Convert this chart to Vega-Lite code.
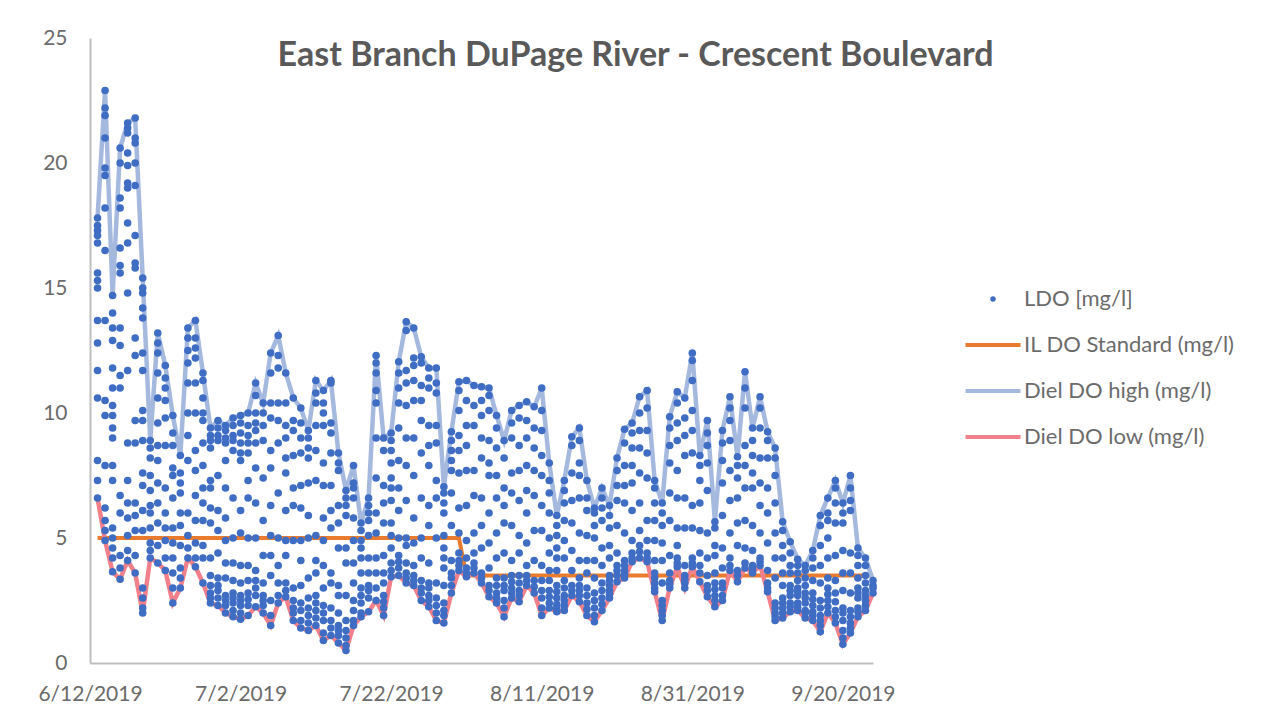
{"$schema":"https://vega.github.io/schema/vega-lite/v6.json","width":783,"height":625,"autosize":"none","padding":{"left":90,"top":38,"right":390,"bottom":56},"background":"white",
"title":{"text":"East Branch DuPage River - Crescent Boulevard","font":"Lato","fontSize":34,"fontWeight":"bold","color":"#595959","anchor":"middle","dx":154,"offset":-46},
"datasets":{
"daily":[
{"d":"6/13/2019","hi":17.8,"lo":6.6,"std":5},{"d":"6/14/2019","hi":22.9,"lo":4.9,"std":5},{"d":"6/15/2019","hi":14.7,"lo":3.65,"std":5},{"d":"6/16/2019","hi":20.6,"lo":3.35,"std":5},{"d":"6/17/2019","hi":21.6,"lo":4.1,"std":5},{"d":"6/18/2019","hi":21.8,"lo":3.6,"std":5},{"d":"6/19/2019","hi":15.4,"lo":2,"std":5},{"d":"6/20/2019","hi":8.9,"lo":4.2,"std":5},{"d":"6/21/2019","hi":13.2,"lo":4,"std":5},{"d":"6/22/2019","hi":11.9,"lo":3.7,"std":5},{"d":"6/23/2019","hi":9.9,"lo":2.4,"std":5},{"d":"6/24/2019","hi":8.3,"lo":3,"std":5},{"d":"6/25/2019","hi":13.4,"lo":4.2,"std":5},{"d":"6/26/2019","hi":13.7,"lo":3.85,"std":5},{"d":"6/27/2019","hi":11.6,"lo":3.2,"std":5},{"d":"6/28/2019","hi":9.4,"lo":2.4,"std":5},{"d":"6/29/2019","hi":9.7,"lo":2.3,"std":5},{"d":"6/30/2019","hi":9.5,"lo":2,"std":5},
{"d":"7/1/2019","hi":9.8,"lo":1.85,"std":5},{"d":"7/2/2019","hi":9.9,"lo":1.75,"std":5},{"d":"7/3/2019","hi":10,"lo":1.9,"std":5},{"d":"7/4/2019","hi":11.2,"lo":2.25,"std":5},{"d":"7/5/2019","hi":10.4,"lo":2,"std":5},{"d":"7/6/2019","hi":12.4,"lo":1.5,"std":5},{"d":"7/7/2019","hi":13.1,"lo":2.4,"std":5},{"d":"7/8/2019","hi":11.6,"lo":2.65,"std":5},{"d":"7/9/2019","hi":10.6,"lo":1.7,"std":5},{"d":"7/10/2019","hi":10.2,"lo":1.4,"std":5},{"d":"7/11/2019","hi":9.3,"lo":1.3,"std":5},{"d":"7/12/2019","hi":11.3,"lo":1.5,"std":5},{"d":"7/13/2019","hi":10.9,"lo":0.9,"std":5},{"d":"7/14/2019","hi":11.3,"lo":1.1,"std":5},{"d":"7/15/2019","hi":8.4,"lo":0.8,"std":5},{"d":"7/16/2019","hi":6.9,"lo":0.5,"std":5},{"d":"7/17/2019","hi":7.9,"lo":1.5,"std":5},{"d":"7/18/2019","hi":5.6,"lo":1.85,"std":5},{"d":"7/19/2019","hi":6.6,"lo":2.05,"std":5},{"d":"7/20/2019","hi":12.3,"lo":2.5,"std":5},{"d":"7/21/2019","hi":9,"lo":1.9,"std":5},{"d":"7/22/2019","hi":9.2,"lo":3.45,"std":5},{"d":"7/23/2019","hi":12.05,"lo":3.5,"std":5},{"d":"7/24/2019","hi":13.65,"lo":3.2,"std":5},{"d":"7/25/2019","hi":13.4,"lo":3.1,"std":5},{"d":"7/26/2019","hi":12.25,"lo":2.5,"std":5},{"d":"7/27/2019","hi":11.8,"lo":2.25,"std":5},{"d":"7/28/2019","hi":11.8,"lo":1.7,"std":5},{"d":"7/29/2019","hi":7.05,"lo":1.6,"std":5},{"d":"7/30/2019","hi":9.25,"lo":2.8,"std":5},{"d":"7/31/2019","hi":11.25,"lo":3.7,"std":5},
{"d":"8/1/2019","hi":11.3,"lo":3.45,"std":3.5},{"d":"8/2/2019","hi":11.1,"lo":3.6,"std":3.5},{"d":"8/3/2019","hi":11.05,"lo":3.2,"std":3.5},{"d":"8/4/2019","hi":11,"lo":2.65,"std":3.5},{"d":"8/5/2019","hi":9.9,"lo":2.4,"std":3.5},{"d":"8/6/2019","hi":8.9,"lo":1.85,"std":3.5},{"d":"8/7/2019","hi":10.1,"lo":2.6,"std":3.5},{"d":"8/8/2019","hi":10.3,"lo":2.45,"std":3.5},{"d":"8/9/2019","hi":10.45,"lo":3.1,"std":3.5},{"d":"8/10/2019","hi":10.25,"lo":2.8,"std":3.5},{"d":"8/11/2019","hi":11,"lo":1.9,"std":3.5},{"d":"8/12/2019","hi":8,"lo":2.2,"std":3.5},{"d":"8/13/2019","hi":5.9,"lo":2.05,"std":3.5},{"d":"8/14/2019","hi":7.3,"lo":2.1,"std":3.5},{"d":"8/15/2019","hi":9.05,"lo":2.7,"std":3.5},{"d":"8/16/2019","hi":9.4,"lo":2.45,"std":3.5},{"d":"8/17/2019","hi":7.3,"lo":1.9,"std":3.5},{"d":"8/18/2019","hi":6.2,"lo":1.65,"std":3.5},{"d":"8/19/2019","hi":7,"lo":2.1,"std":3.5},{"d":"8/20/2019","hi":6.3,"lo":2.6,"std":3.5},{"d":"8/21/2019","hi":8.2,"lo":3.25,"std":3.5},{"d":"8/22/2019","hi":9.35,"lo":3.4,"std":3.5},{"d":"8/23/2019","hi":9.6,"lo":4.05,"std":3.5},{"d":"8/24/2019","hi":10.65,"lo":4.2,"std":3.5},{"d":"8/25/2019","hi":10.9,"lo":4.05,"std":3.5},{"d":"8/26/2019","hi":7.3,"lo":2.85,"std":3.5},{"d":"8/27/2019","hi":6.4,"lo":1.7,"std":3.5},{"d":"8/28/2019","hi":9.85,"lo":3,"std":3.5},{"d":"8/29/2019","hi":10.85,"lo":3.85,"std":3.5},{"d":"8/30/2019","hi":10.6,"lo":3,"std":3.5},{"d":"8/31/2019","hi":12.4,"lo":3.85,"std":3.5},
{"d":"9/1/2019","hi":8.3,"lo":3.25,"std":3.5},{"d":"9/2/2019","hi":9.7,"lo":2.65,"std":3.5},{"d":"9/3/2019","hi":5.65,"lo":2.25,"std":3.5},{"d":"9/4/2019","hi":9.3,"lo":2.5,"std":3.5},{"d":"9/5/2019","hi":10.65,"lo":3.7,"std":3.5},{"d":"9/6/2019","hi":8.25,"lo":3.25,"std":3.5},{"d":"9/7/2019","hi":11.65,"lo":3.8,"std":3.5},{"d":"9/8/2019","hi":9.4,"lo":3.6,"std":3.5},{"d":"9/9/2019","hi":10.65,"lo":3.9,"std":3.5},{"d":"9/10/2019","hi":9.25,"lo":2.85,"std":3.5},{"d":"9/11/2019","hi":8.6,"lo":1.7,"std":3.5},{"d":"9/12/2019","hi":5.65,"lo":1.8,"std":3.5},{"d":"9/13/2019","hi":4.85,"lo":2.05,"std":3.5},{"d":"9/14/2019","hi":4.15,"lo":2.1,"std":3.5},{"d":"9/15/2019","hi":3.9,"lo":1.8,"std":3.5},{"d":"9/16/2019","hi":4.5,"lo":1.7,"std":3.5},{"d":"9/17/2019","hi":5.9,"lo":1.25,"std":3.5},{"d":"9/18/2019","hi":6.6,"lo":2,"std":3.5},{"d":"9/19/2019","hi":7.3,"lo":1.6,"std":3.5},{"d":"9/20/2019","hi":6.4,"lo":0.75,"std":3.5},{"d":"9/21/2019","hi":7.5,"lo":1.2,"std":3.5},{"d":"9/22/2019","hi":4.6,"lo":1.85,"std":3.5},{"d":"9/23/2019","hi":4.2,"lo":2.1,"std":3.5},{"d":"9/24/2019","hi":3.3,"lo":2.8,"std":3.5}
],
"ldo":[
{"d":"6/13/2019","v":17.8},{"d":"6/13/2019","v":17.5},{"d":"6/13/2019","v":17.3},{"d":"6/13/2019","v":17.1},{"d":"6/13/2019","v":16.8},{"d":"6/13/2019","v":15.6},{"d":"6/13/2019","v":15.3},{"d":"6/13/2019","v":15},{"d":"6/13/2019","v":13.7},{"d":"6/13/2019","v":12.8},{"d":"6/13/2019","v":11.7},{"d":"6/13/2019","v":10.6},{"d":"6/13/2019","v":8.1},{"d":"6/13/2019","v":7.3},{"d":"6/13/2019","v":6.6},
{"d":"6/14/2019","v":22.9},{"d":"6/14/2019","v":22.2},{"d":"6/14/2019","v":21.9},{"d":"6/14/2019","v":21},{"d":"6/14/2019","v":19.8},{"d":"6/14/2019","v":19.5},{"d":"6/14/2019","v":18.2},{"d":"6/14/2019","v":16.5},{"d":"6/14/2019","v":13.7},{"d":"6/14/2019","v":10.5},{"d":"6/14/2019","v":9.9},{"d":"6/14/2019","v":7.9},{"d":"6/14/2019","v":6.2},{"d":"6/14/2019","v":5.7},{"d":"6/14/2019","v":5.3},{"d":"6/14/2019","v":4.9},
{"d":"6/15/2019","v":14.7},{"d":"6/15/2019","v":14},{"d":"6/15/2019","v":13.4},{"d":"6/15/2019","v":12.9},{"d":"6/15/2019","v":11.8},{"d":"6/15/2019","v":11},{"d":"6/15/2019","v":10.3},{"d":"6/15/2019","v":9.9},{"d":"6/15/2019","v":9.4},{"d":"6/15/2019","v":9},{"d":"6/15/2019","v":7.9},{"d":"6/15/2019","v":7.3},{"d":"6/15/2019","v":5.4},{"d":"6/15/2019","v":5},{"d":"6/15/2019","v":4.6},{"d":"6/15/2019","v":4.2},{"d":"6/15/2019","v":3.65},
{"d":"6/16/2019","v":20.6},{"d":"6/16/2019","v":20},{"d":"6/16/2019","v":18.6},{"d":"6/16/2019","v":18.2},{"d":"6/16/2019","v":16.6},{"d":"6/16/2019","v":15.9},{"d":"6/16/2019","v":15.6},{"d":"6/16/2019","v":13.4},{"d":"6/16/2019","v":12.7},{"d":"6/16/2019","v":11.5},{"d":"6/16/2019","v":11},{"d":"6/16/2019","v":6.7},{"d":"6/16/2019","v":6},{"d":"6/16/2019","v":4.3},{"d":"6/16/2019","v":3.8},{"d":"6/16/2019","v":3.35},
{"d":"6/17/2019","v":21.6},{"d":"6/17/2019","v":21.4},{"d":"6/17/2019","v":21.2},{"d":"6/17/2019","v":20.4},{"d":"6/17/2019","v":19.9},{"d":"6/17/2019","v":19.2},{"d":"6/17/2019","v":19},{"d":"6/17/2019","v":17.6},{"d":"6/17/2019","v":16.8},{"d":"6/17/2019","v":14.8},{"d":"6/17/2019","v":11.7},{"d":"6/17/2019","v":8.8},{"d":"6/17/2019","v":7.3},{"d":"6/17/2019","v":6.4},{"d":"6/17/2019","v":5.8},{"d":"6/17/2019","v":5.1},{"d":"6/17/2019","v":4.5},{"d":"6/17/2019","v":4.1},
{"d":"6/18/2019","v":21.8},{"d":"6/18/2019","v":21},{"d":"6/18/2019","v":20.8},{"d":"6/18/2019","v":20},{"d":"6/18/2019","v":19.1},{"d":"6/18/2019","v":17.1},{"d":"6/18/2019","v":16},{"d":"6/18/2019","v":15.8},{"d":"6/18/2019","v":13},{"d":"6/18/2019","v":12.3},{"d":"6/18/2019","v":9.7},{"d":"6/18/2019","v":8.8},{"d":"6/18/2019","v":6.4},{"d":"6/18/2019","v":5.9},{"d":"6/18/2019","v":5.3},{"d":"6/18/2019","v":4.3},{"d":"6/18/2019","v":3.6},
{"d":"6/19/2019","v":15.4},{"d":"6/19/2019","v":15},{"d":"6/19/2019","v":14.8},{"d":"6/19/2019","v":14.2},{"d":"6/19/2019","v":13.8},{"d":"6/19/2019","v":12.4},{"d":"6/19/2019","v":11.7},{"d":"6/19/2019","v":10.1},{"d":"6/19/2019","v":9.7},{"d":"6/19/2019","v":8.9},{"d":"6/19/2019","v":7.6},{"d":"6/19/2019","v":7.1},{"d":"6/19/2019","v":6.1},{"d":"6/19/2019","v":5.3},{"d":"6/19/2019","v":3},{"d":"6/19/2019","v":2.6},{"d":"6/19/2019","v":2.2},{"d":"6/19/2019","v":2},
{"d":"6/20/2019","v":8.9},{"d":"6/20/2019","v":8.6},{"d":"6/20/2019","v":8.2},{"d":"6/20/2019","v":7.5},{"d":"6/20/2019","v":6.9},{"d":"6/20/2019","v":6.3},{"d":"6/20/2019","v":6},{"d":"6/20/2019","v":5.4},{"d":"6/20/2019","v":4.8},{"d":"6/20/2019","v":4.5},{"d":"6/20/2019","v":4.2},
{"d":"6/21/2019","v":13.2},{"d":"6/21/2019","v":12.8},{"d":"6/21/2019","v":12.4},{"d":"6/21/2019","v":11.6},{"d":"6/21/2019","v":10.6},{"d":"6/21/2019","v":9.6},{"d":"6/21/2019","v":8.7},{"d":"6/21/2019","v":8.1},{"d":"6/21/2019","v":7.2},{"d":"6/21/2019","v":6.4},{"d":"6/21/2019","v":5.6},{"d":"6/21/2019","v":4.7},{"d":"6/21/2019","v":4},
{"d":"6/22/2019","v":11.9},{"d":"6/22/2019","v":11.4},{"d":"6/22/2019","v":11},{"d":"6/22/2019","v":10.5},{"d":"6/22/2019","v":9.8},{"d":"6/22/2019","v":8.7},{"d":"6/22/2019","v":7},{"d":"6/22/2019","v":6},{"d":"6/22/2019","v":5.4},{"d":"6/22/2019","v":4.9},{"d":"6/22/2019","v":4.2},{"d":"6/22/2019","v":3.7},
{"d":"6/23/2019","v":9.9},{"d":"6/23/2019","v":9.2},{"d":"6/23/2019","v":8.7},{"d":"6/23/2019","v":7.8},{"d":"6/23/2019","v":7.5},{"d":"6/23/2019","v":6.6},{"d":"6/23/2019","v":5.4},{"d":"6/23/2019","v":4.8},{"d":"6/23/2019","v":4.2},{"d":"6/23/2019","v":3.6},{"d":"6/23/2019","v":3},{"d":"6/23/2019","v":2.4},
{"d":"6/24/2019","v":8.3},{"d":"6/24/2019","v":7.6},{"d":"6/24/2019","v":7.2},{"d":"6/24/2019","v":6.8},{"d":"6/24/2019","v":6},{"d":"6/24/2019","v":5.5},{"d":"6/24/2019","v":4.7},{"d":"6/24/2019","v":3.8},{"d":"6/24/2019","v":3.4},{"d":"6/24/2019","v":3},
{"d":"6/25/2019","v":13.4},{"d":"6/25/2019","v":13},{"d":"6/25/2019","v":12.5},{"d":"6/25/2019","v":12},{"d":"6/25/2019","v":11.2},{"d":"6/25/2019","v":10},{"d":"6/25/2019","v":9.1},{"d":"6/25/2019","v":8.1},{"d":"6/25/2019","v":6},{"d":"6/25/2019","v":5.1},{"d":"6/25/2019","v":4.6},{"d":"6/25/2019","v":4.2},
{"d":"6/26/2019","v":13.7},{"d":"6/26/2019","v":13},{"d":"6/26/2019","v":12.6},{"d":"6/26/2019","v":12.2},{"d":"6/26/2019","v":11.2},{"d":"6/26/2019","v":10},{"d":"6/26/2019","v":8.5},{"d":"6/26/2019","v":7.7},{"d":"6/26/2019","v":6.7},{"d":"6/26/2019","v":5.7},{"d":"6/26/2019","v":4.8},{"d":"6/26/2019","v":4.2},{"d":"6/26/2019","v":3.85},
{"d":"6/27/2019","v":11.6},{"d":"6/27/2019","v":11.3},{"d":"6/27/2019","v":10.6},{"d":"6/27/2019","v":10},{"d":"6/27/2019","v":9.7},{"d":"6/27/2019","v":8.8},{"d":"6/27/2019","v":7.9},{"d":"6/27/2019","v":7},{"d":"6/27/2019","v":6.4},{"d":"6/27/2019","v":5.7},{"d":"6/27/2019","v":4.7},{"d":"6/27/2019","v":4.2},{"d":"6/27/2019","v":3.2},
{"d":"6/28/2019","v":9.4},{"d":"6/28/2019","v":9.1},{"d":"6/28/2019","v":8.6},{"d":"6/28/2019","v":7.3},{"d":"6/28/2019","v":7},{"d":"6/28/2019","v":6.2},{"d":"6/28/2019","v":5.6},{"d":"6/28/2019","v":4.2},{"d":"6/28/2019","v":3.5},{"d":"6/28/2019","v":3.1},{"d":"6/28/2019","v":2.8},{"d":"6/28/2019","v":2.4},
{"d":"6/29/2019","v":9.7},{"d":"6/29/2019","v":9.4},{"d":"6/29/2019","v":8.9},{"d":"6/29/2019","v":7.5},{"d":"6/29/2019","v":6.1},{"d":"6/29/2019","v":5.3},{"d":"6/29/2019","v":4.4},{"d":"6/29/2019","v":3.4},{"d":"6/29/2019","v":2.9},{"d":"6/29/2019","v":2.6},{"d":"6/29/2019","v":2.3},
{"d":"6/30/2019","v":9.5},{"d":"6/30/2019","v":9.3},{"d":"6/30/2019","v":8.8},{"d":"6/30/2019","v":8.1},{"d":"6/30/2019","v":7},{"d":"6/30/2019","v":5.8},{"d":"6/30/2019","v":4.9},{"d":"6/30/2019","v":4},{"d":"6/30/2019","v":3.4},{"d":"6/30/2019","v":2.7},{"d":"6/30/2019","v":2.3},{"d":"6/30/2019","v":2},
{"d":"7/1/2019","v":9.8},{"d":"7/1/2019","v":9.5},{"d":"7/1/2019","v":9.1},{"d":"7/1/2019","v":8.5},{"d":"7/1/2019","v":6.6},{"d":"7/1/2019","v":5},{"d":"7/1/2019","v":4},{"d":"7/1/2019","v":3.3},{"d":"7/1/2019","v":2.8},{"d":"7/1/2019","v":2.4},{"d":"7/1/2019","v":2.1},{"d":"7/1/2019","v":1.85},
{"d":"7/2/2019","v":9.9},{"d":"7/2/2019","v":9.6},{"d":"7/2/2019","v":9.2},{"d":"7/2/2019","v":8.8},{"d":"7/2/2019","v":8.1},{"d":"7/2/2019","v":6.1},{"d":"7/2/2019","v":5.2},{"d":"7/2/2019","v":3.9},{"d":"7/2/2019","v":3.2},{"d":"7/2/2019","v":2.7},{"d":"7/2/2019","v":2.3},{"d":"7/2/2019","v":2},{"d":"7/2/2019","v":1.75},
{"d":"7/3/2019","v":10},{"d":"7/3/2019","v":9.5},{"d":"7/3/2019","v":9.1},{"d":"7/3/2019","v":8.4},{"d":"7/3/2019","v":7.3},{"d":"7/3/2019","v":6.6},{"d":"7/3/2019","v":5},{"d":"7/3/2019","v":3.9},{"d":"7/3/2019","v":3.3},{"d":"7/3/2019","v":2.8},{"d":"7/3/2019","v":2.3},{"d":"7/3/2019","v":1.9},
{"d":"7/4/2019","v":11.2},{"d":"7/4/2019","v":10.7},{"d":"7/4/2019","v":10},{"d":"7/4/2019","v":9.3},{"d":"7/4/2019","v":8.8},{"d":"7/4/2019","v":7.8},{"d":"7/4/2019","v":6.4},{"d":"7/4/2019","v":5},{"d":"7/4/2019","v":3.7},{"d":"7/4/2019","v":3.3},{"d":"7/4/2019","v":2.7},{"d":"7/4/2019","v":2.25},
{"d":"7/5/2019","v":10.4},{"d":"7/5/2019","v":10},{"d":"7/5/2019","v":9.5},{"d":"7/5/2019","v":8.9},{"d":"7/5/2019","v":7.4},{"d":"7/5/2019","v":5.7},{"d":"7/5/2019","v":4.3},{"d":"7/5/2019","v":3.2},{"d":"7/5/2019","v":2.7},{"d":"7/5/2019","v":2.3},{"d":"7/5/2019","v":2},
{"d":"7/6/2019","v":12.4},{"d":"7/6/2019","v":11.6},{"d":"7/6/2019","v":10.4},{"d":"7/6/2019","v":9.8},{"d":"7/6/2019","v":8.5},{"d":"7/6/2019","v":7.8},{"d":"7/6/2019","v":6.3},{"d":"7/6/2019","v":5.1},{"d":"7/6/2019","v":4.3},{"d":"7/6/2019","v":3.5},{"d":"7/6/2019","v":2.5},{"d":"7/6/2019","v":1.9},{"d":"7/6/2019","v":1.5},
{"d":"7/7/2019","v":13.1},{"d":"7/7/2019","v":12.3},{"d":"7/7/2019","v":11.8},{"d":"7/7/2019","v":10.4},{"d":"7/7/2019","v":9.7},{"d":"7/7/2019","v":8.8},{"d":"7/7/2019","v":6.8},{"d":"7/7/2019","v":5},{"d":"7/7/2019","v":3.9},{"d":"7/7/2019","v":3.2},{"d":"7/7/2019","v":2.7},{"d":"7/7/2019","v":2.4},
{"d":"7/8/2019","v":11.6},{"d":"7/8/2019","v":10.4},{"d":"7/8/2019","v":9.5},{"d":"7/8/2019","v":9},{"d":"7/8/2019","v":8.2},{"d":"7/8/2019","v":7.6},{"d":"7/8/2019","v":6.1},{"d":"7/8/2019","v":4.9},{"d":"7/8/2019","v":4.3},{"d":"7/8/2019","v":3.2},{"d":"7/8/2019","v":2.9},{"d":"7/8/2019","v":2.65},
{"d":"7/9/2019","v":10.6},{"d":"7/9/2019","v":9.7},{"d":"7/9/2019","v":9.3},{"d":"7/9/2019","v":8.3},{"d":"7/9/2019","v":7},{"d":"7/9/2019","v":6.3},{"d":"7/9/2019","v":4.9},{"d":"7/9/2019","v":3},{"d":"7/9/2019","v":2.5},{"d":"7/9/2019","v":2.2},{"d":"7/9/2019","v":1.7},
{"d":"7/10/2019","v":10.2},{"d":"7/10/2019","v":9.6},{"d":"7/10/2019","v":9},{"d":"7/10/2019","v":8.4},{"d":"7/10/2019","v":7.1},{"d":"7/10/2019","v":6.2},{"d":"7/10/2019","v":4.9},{"d":"7/10/2019","v":4.1},{"d":"7/10/2019","v":3.1},{"d":"7/10/2019","v":2.1},{"d":"7/10/2019","v":1.7},{"d":"7/10/2019","v":1.4},
{"d":"7/11/2019","v":9.3},{"d":"7/11/2019","v":9},{"d":"7/11/2019","v":8.6},{"d":"7/11/2019","v":8.2},{"d":"7/11/2019","v":7.2},{"d":"7/11/2019","v":5.9},{"d":"7/11/2019","v":5},{"d":"7/11/2019","v":3.4},{"d":"7/11/2019","v":2.6},{"d":"7/11/2019","v":1.9},{"d":"7/11/2019","v":1.6},{"d":"7/11/2019","v":1.3},
{"d":"7/12/2019","v":11.3},{"d":"7/12/2019","v":10.8},{"d":"7/12/2019","v":10.4},{"d":"7/12/2019","v":9.5},{"d":"7/12/2019","v":8.5},{"d":"7/12/2019","v":7.3},{"d":"7/12/2019","v":5.1},{"d":"7/12/2019","v":4.1},{"d":"7/12/2019","v":3.6},{"d":"7/12/2019","v":2.7},{"d":"7/12/2019","v":2.1},{"d":"7/12/2019","v":1.8},{"d":"7/12/2019","v":1.5},
{"d":"7/13/2019","v":10.9},{"d":"7/13/2019","v":10.4},{"d":"7/13/2019","v":10},{"d":"7/13/2019","v":9.5},{"d":"7/13/2019","v":8},{"d":"7/13/2019","v":7.1},{"d":"7/13/2019","v":5.8},{"d":"7/13/2019","v":4.9},{"d":"7/13/2019","v":3.9},{"d":"7/13/2019","v":3},{"d":"7/13/2019","v":2.3},{"d":"7/13/2019","v":1.7},{"d":"7/13/2019","v":1.2},{"d":"7/13/2019","v":0.9},
{"d":"7/14/2019","v":11.3},{"d":"7/14/2019","v":11.2},{"d":"7/14/2019","v":9.6},{"d":"7/14/2019","v":9.2},{"d":"7/14/2019","v":8.4},{"d":"7/14/2019","v":7.1},{"d":"7/14/2019","v":6.1},{"d":"7/14/2019","v":5.4},{"d":"7/14/2019","v":3.6},{"d":"7/14/2019","v":3.2},{"d":"7/14/2019","v":2.2},{"d":"7/14/2019","v":1.7},{"d":"7/14/2019","v":1.1},
{"d":"7/15/2019","v":8.4},{"d":"7/15/2019","v":8},{"d":"7/15/2019","v":7.7},{"d":"7/15/2019","v":6.3},{"d":"7/15/2019","v":5.6},{"d":"7/15/2019","v":4.6},{"d":"7/15/2019","v":3.1},{"d":"7/15/2019","v":2.7},{"d":"7/15/2019","v":2},{"d":"7/15/2019","v":1.5},{"d":"7/15/2019","v":1.1},{"d":"7/15/2019","v":0.8},
{"d":"7/16/2019","v":6.9},{"d":"7/16/2019","v":6.6},{"d":"7/16/2019","v":6.3},{"d":"7/16/2019","v":5.9},{"d":"7/16/2019","v":4.6},{"d":"7/16/2019","v":4},{"d":"7/16/2019","v":2.7},{"d":"7/16/2019","v":1.7},{"d":"7/16/2019","v":1},{"d":"7/16/2019","v":0.7},{"d":"7/16/2019","v":0.5},
{"d":"7/17/2019","v":7.9},{"d":"7/17/2019","v":7.2},{"d":"7/17/2019","v":7},{"d":"7/17/2019","v":6.6},{"d":"7/17/2019","v":5.8},{"d":"7/17/2019","v":4.9},{"d":"7/17/2019","v":4},{"d":"7/17/2019","v":3.2},{"d":"7/17/2019","v":2.5},{"d":"7/17/2019","v":1.7},{"d":"7/17/2019","v":1.5},
{"d":"7/18/2019","v":5.6},{"d":"7/18/2019","v":5.3},{"d":"7/18/2019","v":4.9},{"d":"7/18/2019","v":4.6},{"d":"7/18/2019","v":4.2},{"d":"7/18/2019","v":3.6},{"d":"7/18/2019","v":3},{"d":"7/18/2019","v":2.4},{"d":"7/18/2019","v":2},{"d":"7/18/2019","v":1.85},
{"d":"7/19/2019","v":6.6},{"d":"7/19/2019","v":6.3},{"d":"7/19/2019","v":6},{"d":"7/19/2019","v":5.7},{"d":"7/19/2019","v":5.1},{"d":"7/19/2019","v":4.2},{"d":"7/19/2019","v":3.6},{"d":"7/19/2019","v":3.1},{"d":"7/19/2019","v":2.6},{"d":"7/19/2019","v":2.05},
{"d":"7/20/2019","v":12.3},{"d":"7/20/2019","v":12},{"d":"7/20/2019","v":11.6},{"d":"7/20/2019","v":10.9},{"d":"7/20/2019","v":10.4},{"d":"7/20/2019","v":9},{"d":"7/20/2019","v":7.4},{"d":"7/20/2019","v":6},{"d":"7/20/2019","v":5.2},{"d":"7/20/2019","v":4.2},{"d":"7/20/2019","v":3.6},{"d":"7/20/2019","v":3},{"d":"7/20/2019","v":2.5},
{"d":"7/21/2019","v":9},{"d":"7/21/2019","v":8.5},{"d":"7/21/2019","v":7.1},{"d":"7/21/2019","v":6.4},{"d":"7/21/2019","v":5.6},{"d":"7/21/2019","v":4.3},{"d":"7/21/2019","v":3.6},{"d":"7/21/2019","v":3.2},{"d":"7/21/2019","v":2.7},{"d":"7/21/2019","v":2.2},{"d":"7/21/2019","v":1.9},
{"d":"7/22/2019","v":9.2},{"d":"7/22/2019","v":8.9},{"d":"7/22/2019","v":8.5},{"d":"7/22/2019","v":8},{"d":"7/22/2019","v":7.4},{"d":"7/22/2019","v":7},{"d":"7/22/2019","v":6.5},{"d":"7/22/2019","v":5.6},{"d":"7/22/2019","v":5.1},{"d":"7/22/2019","v":4.6},{"d":"7/22/2019","v":4},{"d":"7/22/2019","v":3.45},
{"d":"7/23/2019","v":12.05},{"d":"7/23/2019","v":11.6},{"d":"7/23/2019","v":11},{"d":"7/23/2019","v":10.4},{"d":"7/23/2019","v":9.4},{"d":"7/23/2019","v":8.1},{"d":"7/23/2019","v":7},{"d":"7/23/2019","v":6.1},{"d":"7/23/2019","v":5},{"d":"7/23/2019","v":4.3},{"d":"7/23/2019","v":3.8},{"d":"7/23/2019","v":3.5},
{"d":"7/24/2019","v":13.65},{"d":"7/24/2019","v":13.3},{"d":"7/24/2019","v":11.7},{"d":"7/24/2019","v":11.2},{"d":"7/24/2019","v":10.3},{"d":"7/24/2019","v":9},{"d":"7/24/2019","v":7.9},{"d":"7/24/2019","v":6.5},{"d":"7/24/2019","v":5},{"d":"7/24/2019","v":4.7},{"d":"7/24/2019","v":4},{"d":"7/24/2019","v":3.6},{"d":"7/24/2019","v":3.2},
{"d":"7/25/2019","v":13.4},{"d":"7/25/2019","v":12.2},{"d":"7/25/2019","v":11.9},{"d":"7/25/2019","v":11.3},{"d":"7/25/2019","v":10.5},{"d":"7/25/2019","v":9},{"d":"7/25/2019","v":7.5},{"d":"7/25/2019","v":5.8},{"d":"7/25/2019","v":4.8},{"d":"7/25/2019","v":3.9},{"d":"7/25/2019","v":3.5},{"d":"7/25/2019","v":3.1},
{"d":"7/26/2019","v":12.25},{"d":"7/26/2019","v":12},{"d":"7/26/2019","v":11.1},{"d":"7/26/2019","v":10.5},{"d":"7/26/2019","v":9.7},{"d":"7/26/2019","v":8.4},{"d":"7/26/2019","v":6.6},{"d":"7/26/2019","v":5},{"d":"7/26/2019","v":4.2},{"d":"7/26/2019","v":3.3},{"d":"7/26/2019","v":2.8},{"d":"7/26/2019","v":2.5},
{"d":"7/27/2019","v":11.8},{"d":"7/27/2019","v":11.4},{"d":"7/27/2019","v":11},{"d":"7/27/2019","v":9.5},{"d":"7/27/2019","v":8.7},{"d":"7/27/2019","v":7.9},{"d":"7/27/2019","v":6.3},{"d":"7/27/2019","v":5.5},{"d":"7/27/2019","v":4},{"d":"7/27/2019","v":3.2},{"d":"7/27/2019","v":2.7},{"d":"7/27/2019","v":2.25},
{"d":"7/28/2019","v":11.8},{"d":"7/28/2019","v":11.2},{"d":"7/28/2019","v":10.8},{"d":"7/28/2019","v":9.5},{"d":"7/28/2019","v":8.8},{"d":"7/28/2019","v":7.3},{"d":"7/28/2019","v":6.6},{"d":"7/28/2019","v":5},{"d":"7/28/2019","v":3.2},{"d":"7/28/2019","v":2.6},{"d":"7/28/2019","v":2},{"d":"7/28/2019","v":1.7},
{"d":"7/29/2019","v":7.05},{"d":"7/29/2019","v":6.8},{"d":"7/29/2019","v":6.4},{"d":"7/29/2019","v":6},{"d":"7/29/2019","v":5.1},{"d":"7/29/2019","v":4.6},{"d":"7/29/2019","v":4.2},{"d":"7/29/2019","v":3.8},{"d":"7/29/2019","v":3.1},{"d":"7/29/2019","v":2.4},{"d":"7/29/2019","v":1.9},{"d":"7/29/2019","v":1.6},
{"d":"7/30/2019","v":9.25},{"d":"7/30/2019","v":8.9},{"d":"7/30/2019","v":8.5},{"d":"7/30/2019","v":8.1},{"d":"7/30/2019","v":7.7},{"d":"7/30/2019","v":6.8},{"d":"7/30/2019","v":5.5},{"d":"7/30/2019","v":4.1},{"d":"7/30/2019","v":3.6},{"d":"7/30/2019","v":3.1},{"d":"7/30/2019","v":2.8},
{"d":"7/31/2019","v":11.25},{"d":"7/31/2019","v":10.9},{"d":"7/31/2019","v":10.1},{"d":"7/31/2019","v":9.1},{"d":"7/31/2019","v":8.5},{"d":"7/31/2019","v":7.6},{"d":"7/31/2019","v":6.2},{"d":"7/31/2019","v":5.2},{"d":"7/31/2019","v":4.4},{"d":"7/31/2019","v":3.9},{"d":"7/31/2019","v":3.7},
{"d":"8/1/2019","v":11.3},{"d":"8/1/2019","v":10.5},{"d":"8/1/2019","v":9.5},{"d":"8/1/2019","v":8.7},{"d":"8/1/2019","v":7.7},{"d":"8/1/2019","v":6.3},{"d":"8/1/2019","v":4.9},{"d":"8/1/2019","v":4.2},{"d":"8/1/2019","v":3.8},{"d":"8/1/2019","v":3.45},
{"d":"8/2/2019","v":11.1},{"d":"8/2/2019","v":10.3},{"d":"8/2/2019","v":9.5},{"d":"8/2/2019","v":7.7},{"d":"8/2/2019","v":6.7},{"d":"8/2/2019","v":5.2},{"d":"8/2/2019","v":4.4},{"d":"8/2/2019","v":3.8},{"d":"8/2/2019","v":3.6},
{"d":"8/3/2019","v":11.05},{"d":"8/3/2019","v":10.5},{"d":"8/3/2019","v":9.9},{"d":"8/3/2019","v":9},{"d":"8/3/2019","v":8.2},{"d":"8/3/2019","v":6.6},{"d":"8/3/2019","v":5.5},{"d":"8/3/2019","v":4.6},{"d":"8/3/2019","v":3.6},{"d":"8/3/2019","v":3.2},
{"d":"8/4/2019","v":11},{"d":"8/4/2019","v":10.7},{"d":"8/4/2019","v":10.1},{"d":"8/4/2019","v":8.9},{"d":"8/4/2019","v":8},{"d":"8/4/2019","v":7.5},{"d":"8/4/2019","v":6},{"d":"8/4/2019","v":4.8},{"d":"8/4/2019","v":3.8},{"d":"8/4/2019","v":3.1},{"d":"8/4/2019","v":2.65},
{"d":"8/5/2019","v":9.9},{"d":"8/5/2019","v":9.4},{"d":"8/5/2019","v":8.6},{"d":"8/5/2019","v":7.5},{"d":"8/5/2019","v":6.6},{"d":"8/5/2019","v":5.2},{"d":"8/5/2019","v":4.2},{"d":"8/5/2019","v":3.4},{"d":"8/5/2019","v":2.8},{"d":"8/5/2019","v":2.4},
{"d":"8/6/2019","v":8.9},{"d":"8/6/2019","v":8.2},{"d":"8/6/2019","v":7},{"d":"8/6/2019","v":6.3},{"d":"8/6/2019","v":5.6},{"d":"8/6/2019","v":4.4},{"d":"8/6/2019","v":3.4},{"d":"8/6/2019","v":2.9},{"d":"8/6/2019","v":2.5},{"d":"8/6/2019","v":1.85},
{"d":"8/7/2019","v":10.1},{"d":"8/7/2019","v":9.6},{"d":"8/7/2019","v":9},{"d":"8/7/2019","v":7.6},{"d":"8/7/2019","v":6.8},{"d":"8/7/2019","v":5.5},{"d":"8/7/2019","v":4.1},{"d":"8/7/2019","v":3.5},{"d":"8/7/2019","v":3},{"d":"8/7/2019","v":2.6},
{"d":"8/8/2019","v":10.3},{"d":"8/8/2019","v":9.8},{"d":"8/8/2019","v":8.7},{"d":"8/8/2019","v":7.7},{"d":"8/8/2019","v":6.5},{"d":"8/8/2019","v":5.1},{"d":"8/8/2019","v":4.4},{"d":"8/8/2019","v":3.5},{"d":"8/8/2019","v":2.9},{"d":"8/8/2019","v":2.45},
{"d":"8/9/2019","v":10.45},{"d":"8/9/2019","v":9.7},{"d":"8/9/2019","v":9},{"d":"8/9/2019","v":7.9},{"d":"8/9/2019","v":6.9},{"d":"8/9/2019","v":6},{"d":"8/9/2019","v":4.8},{"d":"8/9/2019","v":3.9},{"d":"8/9/2019","v":3.5},{"d":"8/9/2019","v":3.1},
{"d":"8/10/2019","v":10.25},{"d":"8/10/2019","v":9.4},{"d":"8/10/2019","v":8.6},{"d":"8/10/2019","v":7.7},{"d":"8/10/2019","v":6.7},{"d":"8/10/2019","v":5.3},{"d":"8/10/2019","v":4.1},{"d":"8/10/2019","v":3.3},{"d":"8/10/2019","v":2.8},
{"d":"8/11/2019","v":11},{"d":"8/11/2019","v":10.1},{"d":"8/11/2019","v":9.3},{"d":"8/11/2019","v":8.3},{"d":"8/11/2019","v":7.5},{"d":"8/11/2019","v":6.3},{"d":"8/11/2019","v":5.3},{"d":"8/11/2019","v":3.9},{"d":"8/11/2019","v":3.3},{"d":"8/11/2019","v":2.6},{"d":"8/11/2019","v":1.9},
{"d":"8/12/2019","v":8},{"d":"8/12/2019","v":7.3},{"d":"8/12/2019","v":6.8},{"d":"8/12/2019","v":6},{"d":"8/12/2019","v":5},{"d":"8/12/2019","v":4.4},{"d":"8/12/2019","v":3.7},{"d":"8/12/2019","v":2.9},{"d":"8/12/2019","v":2.4},{"d":"8/12/2019","v":2.2},
{"d":"8/13/2019","v":5.9},{"d":"8/13/2019","v":5.5},{"d":"8/13/2019","v":5.1},{"d":"8/13/2019","v":4.6},{"d":"8/13/2019","v":4.2},{"d":"8/13/2019","v":3.7},{"d":"8/13/2019","v":3.1},{"d":"8/13/2019","v":2.6},{"d":"8/13/2019","v":2.2},{"d":"8/13/2019","v":2.05},
{"d":"8/14/2019","v":7.3},{"d":"8/14/2019","v":6.9},{"d":"8/14/2019","v":6.4},{"d":"8/14/2019","v":5.7},{"d":"8/14/2019","v":4.9},{"d":"8/14/2019","v":4.2},{"d":"8/14/2019","v":3.3},{"d":"8/14/2019","v":2.7},{"d":"8/14/2019","v":2.3},{"d":"8/14/2019","v":2.1},
{"d":"8/15/2019","v":9.05},{"d":"8/15/2019","v":8.7},{"d":"8/15/2019","v":7.6},{"d":"8/15/2019","v":6.5},{"d":"8/15/2019","v":5.6},{"d":"8/15/2019","v":4.5},{"d":"8/15/2019","v":3.7},{"d":"8/15/2019","v":3.1},{"d":"8/15/2019","v":2.7},
{"d":"8/16/2019","v":9.4},{"d":"8/16/2019","v":8.9},{"d":"8/16/2019","v":8},{"d":"8/16/2019","v":7.5},{"d":"8/16/2019","v":6.6},{"d":"8/16/2019","v":5.2},{"d":"8/16/2019","v":4.1},{"d":"8/16/2019","v":3.4},{"d":"8/16/2019","v":2.9},{"d":"8/16/2019","v":2.45},
{"d":"8/17/2019","v":7.3},{"d":"8/17/2019","v":6.6},{"d":"8/17/2019","v":6.1},{"d":"8/17/2019","v":5.1},{"d":"8/17/2019","v":4.1},{"d":"8/17/2019","v":3.6},{"d":"8/17/2019","v":3},{"d":"8/17/2019","v":2.4},{"d":"8/17/2019","v":1.9},
{"d":"8/18/2019","v":6.2},{"d":"8/18/2019","v":6},{"d":"8/18/2019","v":5.5},{"d":"8/18/2019","v":5},{"d":"8/18/2019","v":4.1},{"d":"8/18/2019","v":3.4},{"d":"8/18/2019","v":2.8},{"d":"8/18/2019","v":2.2},{"d":"8/18/2019","v":1.65},
{"d":"8/19/2019","v":7},{"d":"8/19/2019","v":6.6},{"d":"8/19/2019","v":6.2},{"d":"8/19/2019","v":5.7},{"d":"8/19/2019","v":4.6},{"d":"8/19/2019","v":3.9},{"d":"8/19/2019","v":3.2},{"d":"8/19/2019","v":2.6},{"d":"8/19/2019","v":2.1},
{"d":"8/20/2019","v":6.3},{"d":"8/20/2019","v":5.9},{"d":"8/20/2019","v":5.4},{"d":"8/20/2019","v":4.7},{"d":"8/20/2019","v":4.2},{"d":"8/20/2019","v":3.5},{"d":"8/20/2019","v":3.1},{"d":"8/20/2019","v":2.9},{"d":"8/20/2019","v":2.6},
{"d":"8/21/2019","v":8.2},{"d":"8/21/2019","v":7.7},{"d":"8/21/2019","v":7.1},{"d":"8/21/2019","v":6.5},{"d":"8/21/2019","v":5.5},{"d":"8/21/2019","v":4.4},{"d":"8/21/2019","v":3.9},{"d":"8/21/2019","v":3.5},{"d":"8/21/2019","v":3.25},
{"d":"8/22/2019","v":9.35},{"d":"8/22/2019","v":8.8},{"d":"8/22/2019","v":7.9},{"d":"8/22/2019","v":7.1},{"d":"8/22/2019","v":6.4},{"d":"8/22/2019","v":5.2},{"d":"8/22/2019","v":4.1},{"d":"8/22/2019","v":3.7},{"d":"8/22/2019","v":3.4},
{"d":"8/23/2019","v":9.6},{"d":"8/23/2019","v":9.2},{"d":"8/23/2019","v":8.6},{"d":"8/23/2019","v":7.9},{"d":"8/23/2019","v":7.2},{"d":"8/23/2019","v":6.1},{"d":"8/23/2019","v":4.9},{"d":"8/23/2019","v":4.4},{"d":"8/23/2019","v":4.05},
{"d":"8/24/2019","v":10.65},{"d":"8/24/2019","v":10},{"d":"8/24/2019","v":9.3},{"d":"8/24/2019","v":8.6},{"d":"8/24/2019","v":7.6},{"d":"8/24/2019","v":6.4},{"d":"8/24/2019","v":5.3},{"d":"8/24/2019","v":4.7},{"d":"8/24/2019","v":4.2},
{"d":"8/25/2019","v":10.9},{"d":"8/25/2019","v":10.2},{"d":"8/25/2019","v":9.3},{"d":"8/25/2019","v":8.4},{"d":"8/25/2019","v":7.4},{"d":"8/25/2019","v":5.7},{"d":"8/25/2019","v":4.9},{"d":"8/25/2019","v":4.4},{"d":"8/25/2019","v":4.05},
{"d":"8/26/2019","v":7.3},{"d":"8/26/2019","v":7},{"d":"8/26/2019","v":6.4},{"d":"8/26/2019","v":5.7},{"d":"8/26/2019","v":4.9},{"d":"8/26/2019","v":4.1},{"d":"8/26/2019","v":3.6},{"d":"8/26/2019","v":3.2},{"d":"8/26/2019","v":2.85},
{"d":"8/27/2019","v":6.4},{"d":"8/27/2019","v":6},{"d":"8/27/2019","v":5.5},{"d":"8/27/2019","v":4.8},{"d":"8/27/2019","v":4.1},{"d":"8/27/2019","v":3.2},{"d":"8/27/2019","v":2.5},{"d":"8/27/2019","v":2.1},{"d":"8/27/2019","v":1.7},
{"d":"8/28/2019","v":9.85},{"d":"8/28/2019","v":9.4},{"d":"8/28/2019","v":8.7},{"d":"8/28/2019","v":8},{"d":"8/28/2019","v":6.8},{"d":"8/28/2019","v":5.7},{"d":"8/28/2019","v":4.3},{"d":"8/28/2019","v":3.6},{"d":"8/28/2019","v":3.3},{"d":"8/28/2019","v":3},
{"d":"8/29/2019","v":10.85},{"d":"8/29/2019","v":10.4},{"d":"8/29/2019","v":9.6},{"d":"8/29/2019","v":8.9},{"d":"8/29/2019","v":7.7},{"d":"8/29/2019","v":6.6},{"d":"8/29/2019","v":5.4},{"d":"8/29/2019","v":4.7},{"d":"8/29/2019","v":4.2},{"d":"8/29/2019","v":3.85},
{"d":"8/30/2019","v":10.6},{"d":"8/30/2019","v":9.8},{"d":"8/30/2019","v":9.1},{"d":"8/30/2019","v":8.3},{"d":"8/30/2019","v":6.6},{"d":"8/30/2019","v":5.4},{"d":"8/30/2019","v":3.9},{"d":"8/30/2019","v":3.5},{"d":"8/30/2019","v":3.2},{"d":"8/30/2019","v":3},
{"d":"8/31/2019","v":12.4},{"d":"8/31/2019","v":12.1},{"d":"8/31/2019","v":11.3},{"d":"8/31/2019","v":10.1},{"d":"8/31/2019","v":9.3},{"d":"8/31/2019","v":8.4},{"d":"8/31/2019","v":6.3},{"d":"8/31/2019","v":5.4},{"d":"8/31/2019","v":4.2},{"d":"8/31/2019","v":3.85},
{"d":"9/1/2019","v":8.3},{"d":"9/1/2019","v":7.9},{"d":"9/1/2019","v":7.3},{"d":"9/1/2019","v":6.4},{"d":"9/1/2019","v":5.3},{"d":"9/1/2019","v":4.4},{"d":"9/1/2019","v":3.9},{"d":"9/1/2019","v":3.25},
{"d":"9/2/2019","v":9.7},{"d":"9/2/2019","v":9.2},{"d":"9/2/2019","v":8.7},{"d":"9/2/2019","v":8},{"d":"9/2/2019","v":6.9},{"d":"9/2/2019","v":5.2},{"d":"9/2/2019","v":4.2},{"d":"9/2/2019","v":3.5},{"d":"9/2/2019","v":3.1},{"d":"9/2/2019","v":2.65},
{"d":"9/3/2019","v":5.65},{"d":"9/3/2019","v":5.4},{"d":"9/3/2019","v":4.7},{"d":"9/3/2019","v":4.3},{"d":"9/3/2019","v":3.6},{"d":"9/3/2019","v":3.2},{"d":"9/3/2019","v":2.7},{"d":"9/3/2019","v":2.25},
{"d":"9/4/2019","v":9.3},{"d":"9/4/2019","v":8.8},{"d":"9/4/2019","v":8.1},{"d":"9/4/2019","v":7.2},{"d":"9/4/2019","v":5.9},{"d":"9/4/2019","v":4.6},{"d":"9/4/2019","v":3.8},{"d":"9/4/2019","v":3.2},{"d":"9/4/2019","v":2.7},{"d":"9/4/2019","v":2.5},
{"d":"9/5/2019","v":10.65},{"d":"9/5/2019","v":10.2},{"d":"9/5/2019","v":9.7},{"d":"9/5/2019","v":8.9},{"d":"9/5/2019","v":7.7},{"d":"9/5/2019","v":6.5},{"d":"9/5/2019","v":5.2},{"d":"9/5/2019","v":4.2},{"d":"9/5/2019","v":3.7},
{"d":"9/6/2019","v":8.25},{"d":"9/6/2019","v":7.9},{"d":"9/6/2019","v":7.4},{"d":"9/6/2019","v":6.6},{"d":"9/6/2019","v":5.6},{"d":"9/6/2019","v":4.7},{"d":"9/6/2019","v":3.7},{"d":"9/6/2019","v":3.25},
{"d":"9/7/2019","v":11.65},{"d":"9/7/2019","v":11},{"d":"9/7/2019","v":10.2},{"d":"9/7/2019","v":8.7},{"d":"9/7/2019","v":7.9},{"d":"9/7/2019","v":7},{"d":"9/7/2019","v":5.7},{"d":"9/7/2019","v":4.6},{"d":"9/7/2019","v":3.8},
{"d":"9/8/2019","v":9.4},{"d":"9/8/2019","v":8.9},{"d":"9/8/2019","v":8.3},{"d":"9/8/2019","v":7.6},{"d":"9/8/2019","v":7},{"d":"9/8/2019","v":5.5},{"d":"9/8/2019","v":4.5},{"d":"9/8/2019","v":3.9},{"d":"9/8/2019","v":3.6},
{"d":"9/9/2019","v":10.65},{"d":"9/9/2019","v":10.2},{"d":"9/9/2019","v":9.4},{"d":"9/9/2019","v":8.2},{"d":"9/9/2019","v":7.2},{"d":"9/9/2019","v":6.3},{"d":"9/9/2019","v":5.2},{"d":"9/9/2019","v":4.2},{"d":"9/9/2019","v":3.9},
{"d":"9/10/2019","v":9.25},{"d":"9/10/2019","v":8.9},{"d":"9/10/2019","v":8.2},{"d":"9/10/2019","v":7},{"d":"9/10/2019","v":6},{"d":"9/10/2019","v":4.8},{"d":"9/10/2019","v":3.7},{"d":"9/10/2019","v":3.2},{"d":"9/10/2019","v":2.85},
{"d":"9/11/2019","v":8.6},{"d":"9/11/2019","v":8.2},{"d":"9/11/2019","v":7.5},{"d":"9/11/2019","v":6.4},{"d":"9/11/2019","v":5.2},{"d":"9/11/2019","v":4.2},{"d":"9/11/2019","v":3.4},{"d":"9/11/2019","v":2.4},{"d":"9/11/2019","v":2},{"d":"9/11/2019","v":1.7},
{"d":"9/12/2019","v":5.65},{"d":"9/12/2019","v":5.3},{"d":"9/12/2019","v":4.7},{"d":"9/12/2019","v":4.2},{"d":"9/12/2019","v":3.6},{"d":"9/12/2019","v":3.1},{"d":"9/12/2019","v":2.6},{"d":"9/12/2019","v":2.2},{"d":"9/12/2019","v":1.8},
{"d":"9/13/2019","v":4.85},{"d":"9/13/2019","v":4.4},{"d":"9/13/2019","v":3.9},{"d":"9/13/2019","v":3.6},{"d":"9/13/2019","v":3.1},{"d":"9/13/2019","v":2.7},{"d":"9/13/2019","v":2.4},{"d":"9/13/2019","v":2.05},
{"d":"9/14/2019","v":4.15},{"d":"9/14/2019","v":3.9},{"d":"9/14/2019","v":3.6},{"d":"9/14/2019","v":3.3},{"d":"9/14/2019","v":3},{"d":"9/14/2019","v":2.7},{"d":"9/14/2019","v":2.4},{"d":"9/14/2019","v":2.1},
{"d":"9/15/2019","v":3.9},{"d":"9/15/2019","v":3.7},{"d":"9/15/2019","v":3.4},{"d":"9/15/2019","v":3.1},{"d":"9/15/2019","v":2.8},{"d":"9/15/2019","v":2.4},{"d":"9/15/2019","v":2.1},{"d":"9/15/2019","v":1.8},
{"d":"9/16/2019","v":4.5},{"d":"9/16/2019","v":4.2},{"d":"9/16/2019","v":3.8},{"d":"9/16/2019","v":3.3},{"d":"9/16/2019","v":2.8},{"d":"9/16/2019","v":2.3},{"d":"9/16/2019","v":1.9},{"d":"9/16/2019","v":1.7},
{"d":"9/17/2019","v":5.9},{"d":"9/17/2019","v":5.5},{"d":"9/17/2019","v":4.7},{"d":"9/17/2019","v":3.9},{"d":"9/17/2019","v":3.2},{"d":"9/17/2019","v":2.5},{"d":"9/17/2019","v":1.9},{"d":"9/17/2019","v":1.5},{"d":"9/17/2019","v":1.25},
{"d":"9/18/2019","v":6.6},{"d":"9/18/2019","v":6},{"d":"9/18/2019","v":5.7},{"d":"9/18/2019","v":5},{"d":"9/18/2019","v":4.2},{"d":"9/18/2019","v":3.4},{"d":"9/18/2019","v":3},{"d":"9/18/2019","v":2.5},{"d":"9/18/2019","v":2},
{"d":"9/19/2019","v":7.3},{"d":"9/19/2019","v":7},{"d":"9/19/2019","v":6.4},{"d":"9/19/2019","v":5.6},{"d":"9/19/2019","v":4.3},{"d":"9/19/2019","v":3.3},{"d":"9/19/2019","v":2.8},{"d":"9/19/2019","v":2.1},{"d":"9/19/2019","v":1.6},
{"d":"9/20/2019","v":6.4},{"d":"9/20/2019","v":6},{"d":"9/20/2019","v":5.6},{"d":"9/20/2019","v":4.5},{"d":"9/20/2019","v":3.6},{"d":"9/20/2019","v":2.9},{"d":"9/20/2019","v":2.2},{"d":"9/20/2019","v":1.7},{"d":"9/20/2019","v":1},{"d":"9/20/2019","v":0.75},
{"d":"9/21/2019","v":7.5},{"d":"9/21/2019","v":7},{"d":"9/21/2019","v":6.5},{"d":"9/21/2019","v":6.1},{"d":"9/21/2019","v":4.4},{"d":"9/21/2019","v":3.6},{"d":"9/21/2019","v":2.8},{"d":"9/21/2019","v":2.1},{"d":"9/21/2019","v":1.6},{"d":"9/21/2019","v":1.2},
{"d":"9/22/2019","v":4.6},{"d":"9/22/2019","v":4.3},{"d":"9/22/2019","v":3.9},{"d":"9/22/2019","v":3.4},{"d":"9/22/2019","v":3},{"d":"9/22/2019","v":2.6},{"d":"9/22/2019","v":2.2},{"d":"9/22/2019","v":1.85},
{"d":"9/23/2019","v":4.2},{"d":"9/23/2019","v":3.9},{"d":"9/23/2019","v":3.5},{"d":"9/23/2019","v":3.2},{"d":"9/23/2019","v":2.9},{"d":"9/23/2019","v":2.5},{"d":"9/23/2019","v":2.1},
{"d":"9/24/2019","v":3.3},{"d":"9/24/2019","v":3.1},{"d":"9/24/2019","v":3},{"d":"9/24/2019","v":2.8},
{"d":"6/28/2019","v":8.9},{"d":"6/29/2019","v":9.1},{"d":"6/30/2019","v":9},{"d":"7/1/2019","v":8.9},{"d":"7/2/2019","v":8.4},{"d":"7/3/2019","v":8.8},{"d":"7/4/2019","v":9.6},{"d":"6/28/2019","v":2.6},{"d":"6/29/2019","v":3.1},{"d":"6/30/2019","v":2.5},{"d":"7/1/2019","v":2.6},{"d":"7/2/2019","v":2.5},{"d":"7/3/2019","v":2.55},{"d":"7/4/2019","v":3},{"d":"7/5/2019","v":2.5},{"d":"7/9/2019","v":2},{"d":"7/10/2019","v":2.4},{"d":"7/11/2019","v":2.2},{"d":"7/12/2019","v":2.4},{"d":"7/13/2019","v":2},{"d":"7/14/2019","v":1.4},{"d":"7/15/2019","v":1.3},{"d":"7/16/2019","v":1.3},{"d":"7/17/2019","v":2.1},{"d":"7/18/2019","v":2.7},{"d":"7/19/2019","v":2.9},{"d":"7/21/2019","v":2.45},{"d":"7/22/2019","v":3.7},{"d":"7/23/2019","v":4.05},{"d":"7/24/2019","v":3.4},{"d":"7/25/2019","v":3.3},{"d":"7/26/2019","v":3},{"d":"7/27/2019","v":2.5},{"d":"7/27/2019","v":3},{"d":"7/28/2019","v":2.3},{"d":"7/29/2019","v":2.1},{"d":"7/30/2019","v":3.4},{"d":"7/31/2019","v":4.1},{"d":"8/1/2019","v":3.6},{"d":"8/2/2019","v":4},{"d":"8/3/2019","v":3.4},{"d":"8/4/2019","v":2.9},{"d":"8/5/2019","v":2.6},{"d":"8/5/2019","v":3.1},{"d":"8/6/2019","v":2.2},{"d":"8/6/2019","v":3.1},{"d":"8/7/2019","v":2.8},{"d":"8/7/2019","v":3.25},{"d":"8/8/2019","v":2.7},{"d":"8/8/2019","v":3.2},{"d":"8/9/2019","v":3.3},{"d":"8/10/2019","v":3.05},{"d":"8/11/2019","v":2.2},{"d":"8/11/2019","v":2.9},{"d":"8/12/2019","v":2.65},{"d":"8/12/2019","v":3.3},{"d":"8/13/2019","v":2.35},{"d":"8/13/2019","v":2.85},{"d":"8/14/2019","v":2.5},{"d":"8/14/2019","v":3},{"d":"8/15/2019","v":2.9},{"d":"8/16/2019","v":2.7},{"d":"8/16/2019","v":3.1},{"d":"8/17/2019","v":2.15},{"d":"8/17/2019","v":2.7},{"d":"8/18/2019","v":1.9},{"d":"8/18/2019","v":2.5},{"d":"8/19/2019","v":2.35},{"d":"8/19/2019","v":2.9},{"d":"8/20/2019","v":2.75},{"d":"8/20/2019","v":3.3},{"d":"8/21/2019","v":3.7},{"d":"8/22/2019","v":3.55},{"d":"8/22/2019","v":3.9},{"d":"8/23/2019","v":4.2},{"d":"8/24/2019","v":4.45},{"d":"8/25/2019","v":4.2},{"d":"8/26/2019","v":3.4},{"d":"8/26/2019","v":3},{"d":"8/27/2019","v":1.9},{"d":"8/27/2019","v":2.3},{"d":"8/28/2019","v":3.15},{"d":"8/29/2019","v":4},{"d":"8/30/2019","v":3.35},{"d":"8/31/2019","v":4},{"d":"9/1/2019","v":3.6},{"d":"9/2/2019","v":2.9},{"d":"9/3/2019","v":2.5},{"d":"9/3/2019","v":2.95},{"d":"9/4/2019","v":3},{"d":"9/5/2019","v":3.9},{"d":"9/6/2019","v":3.5},{"d":"9/7/2019","v":4},{"d":"9/8/2019","v":3.75},{"d":"9/9/2019","v":4.05},{"d":"9/10/2019","v":3},{"d":"9/11/2019","v":1.85},{"d":"9/11/2019","v":2.2},{"d":"9/12/2019","v":2},{"d":"9/12/2019","v":2.4},{"d":"9/13/2019","v":2.25},{"d":"9/13/2019","v":2.9},{"d":"9/14/2019","v":2.25},{"d":"9/14/2019","v":2.85},{"d":"9/15/2019","v":2},{"d":"9/15/2019","v":2.6},{"d":"9/16/2019","v":2.05},{"d":"9/16/2019","v":2.55},{"d":"9/17/2019","v":1.7},{"d":"9/17/2019","v":2.2},{"d":"9/18/2019","v":2.25},{"d":"9/18/2019","v":2.75},{"d":"9/19/2019","v":1.85},{"d":"9/19/2019","v":2.45},{"d":"9/20/2019","v":1.3},{"d":"9/20/2019","v":2},{"d":"9/21/2019","v":1.4},{"d":"9/21/2019","v":1.85},{"d":"9/22/2019","v":2.05},{"d":"9/22/2019","v":2.8},{"d":"9/23/2019","v":2.3},{"d":"9/23/2019","v":2.7}
]},
"encoding":{"x":{"field":"d","type":"temporal","scale":{"domain":[{"year":2019,"month":6,"date":12},{"year":2019,"month":9,"date":24}]},
"axis":{"title":null,"values":[{"year":2019,"month":6,"date":12},{"year":2019,"month":7,"date":2},{"year":2019,"month":7,"date":22},{"year":2019,"month":8,"date":11},{"year":2019,"month":8,"date":31},{"year":2019,"month":9,"date":20}],"format":"%-m/%-d/%Y","grid":false,"ticks":false,"domainColor":"#bfbfbf","domainWidth":2,"labelFont":"Lato","labelFontSize":21,"labelColor":"#6b6b6b","labelPadding":20,"labelFlush":false,"labelOverlap":false}}},
"layer":[
{"data":{"name":"daily"},"mark":{"type":"line","strokeWidth":4,"clip":false},"encoding":{"y":{"field":"std","type":"quantitative","title":null,"scale":{"domain":[0,25],"nice":false},"axis":{"title":null,"values":[0,5,10,15,20,25],"grid":false,"ticks":false,"domainColor":"#bfbfbf","domainWidth":2,"labelFont":"Lato","labelFontSize":21,"labelColor":"#6b6b6b","labelPadding":23}},"color":{"datum":"IL DO Standard (mg/l)"}}},
{"data":{"name":"daily"},"mark":{"type":"line","strokeWidth":4.5},"encoding":{"y":{"field":"hi","type":"quantitative","scale":{"domain":[0,25],"nice":false}},"color":{"datum":"Diel DO high (mg/l)"}}},
{"data":{"name":"daily"},"mark":{"type":"line","strokeWidth":4.5},"encoding":{"y":{"field":"lo","type":"quantitative","scale":{"domain":[0,25],"nice":false}},"color":{"datum":"Diel DO low (mg/l)"}}},
{"data":{"name":"ldo"},"mark":{"type":"point","filled":true,"opacity":1,"size":58},"encoding":{"y":{"field":"v","type":"quantitative","scale":{"domain":[0,25],"nice":false}},"color":{"datum":"LDO [mg/l]","scale":{"domain":["LDO [mg/l]","IL DO Standard (mg/l)","Diel DO high (mg/l)","Diel DO low (mg/l)"],"range":["#3f6dc3","#e97b2e","#a5b9df","#f2808a"]},"legend":{"title":null,"orient":"none","legendX":892,"legendY":250,"symbolType":"stroke","symbolSize":100,"symbolStrokeWidth":4,"symbolLimit":4,"rowPadding":24,"labelFont":"Lato","labelFontSize":22,"labelColor":"#6b6b6b","labelOffset":20,"labelLimit":300,"encoding":{"symbols":{"shape":{"value":{"expr":"datum.value=='LDO [mg/l]'?'circle':'stroke'"}},"size":{"value":{"expr":"datum.value=='LDO [mg/l]'?30:3025"}},"fill":{"value":{"expr":"datum.value=='LDO [mg/l]'?'#3f6dc3':'transparent'"}},"strokeWidth":{"value":{"expr":"datum.value=='LDO [mg/l]'?0:4"}}}}}}}}
],
"config":{"view":{"stroke":null}}}
